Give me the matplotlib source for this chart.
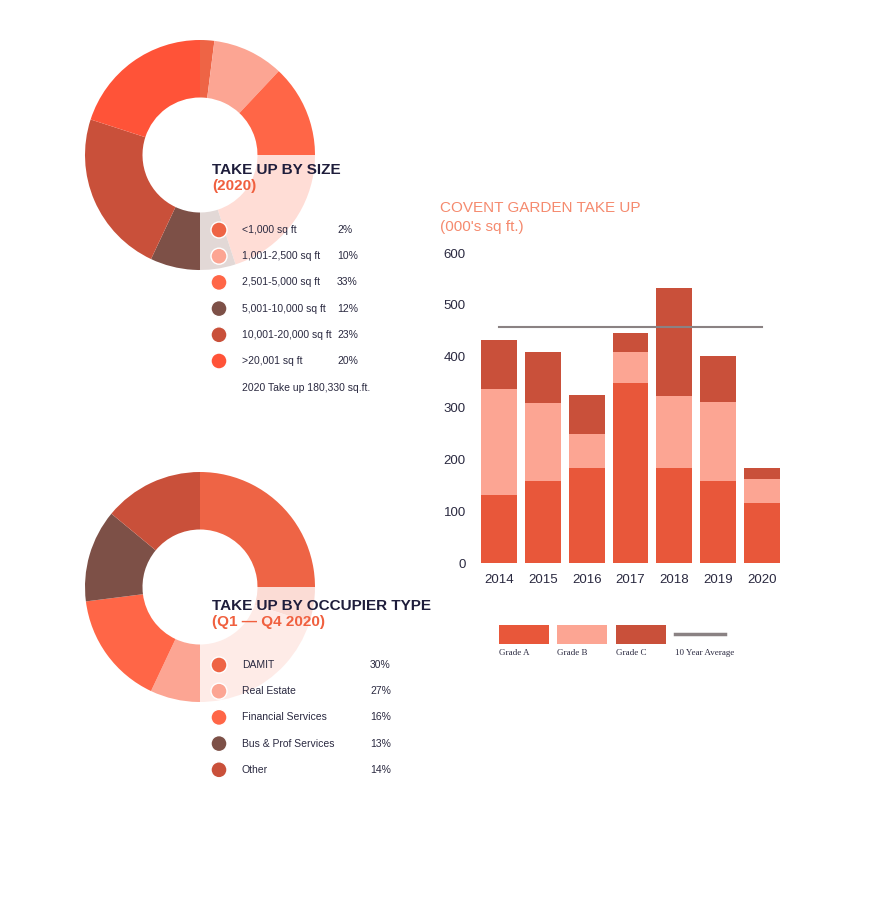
import matplotlib
matplotlib.use("Agg")
import matplotlib.pyplot as plt
from matplotlib.patches import Rectangle, Circle
from matplotlib.lines import Line2D

plt.rcParams["font.family"] = "Liberation Sans"

W, H = 869, 900
years = ["2014", "2015", "2016", "2017", "2018", "2019", "2020"]
grade_a = [132, 159, 184, 348, 184, 159, 116]
grade_b = [205, 150, 66, 60, 139, 152, 46]
grade_c = [94, 99, 75, 37, 209, 89, 22]
ten_year_avg = 456
yticks = [0, 100, 200, 300, 400, 500, 600]

size_labels = ["<1,000 sq ft", "1,001-2,500 sq ft", "2,501-5,000 sq ft", "5,001-10,000 sq ft",
               "10,001-20,000 sq ft", ">20,001 sq ft"]
size_values = [2, 10, 33, 12, 23, 20]
size_colors = ["#EE6445", "#FCA593", "#FF6647", "#7D5047", "#C9503A", "#FF5338"]

occ_labels = ["DAMIT", "Real Estate", "Financial Services", "Bus & Prof Services", "Other"]
occ_values = [30, 27, 16, 13, 14]
occ_colors = ["#EE6445", "#FCA593", "#FF6647", "#7D5047", "#C9503A"]

A_COL, B_COL, C_COL, AVG_COL = "#E8573A", "#FCA593", "#C9503A", "#8a8283"
NAVY, ORANGE, TXT = "#1e1d3b", "#F0603F", "#2a2940"

fig = plt.figure(figsize=(W / 100, H / 100), dpi=100)
fig.patch.set_facecolor("white")

def rect(x0, y0, x1, y1):
    return [x0 / W, 1 - y1 / H, (x1 - x0) / W, (y1 - y0) / H]

def donut(cx, cy, values, colors):
    r = 115
    ax = fig.add_axes(rect(cx - r, cy - r, cx + r, cy + r))
    ax.pie(values, colors=colors, startangle=90, counterclock=False,
           radius=1, wedgeprops=dict(width=0.5, edgecolor="none"))
    ax.add_patch(Rectangle((0, -1.05), 1.1, 1.05, facecolor="white", alpha=0.78,
                           edgecolor="none", zorder=5, clip_on=False))
    ax.set_xlim(-1, 1); ax.set_ylim(-1, 1)
    ax.set_aspect("equal"); ax.axis("off")
    return ax

donut(200, 155, size_values, size_colors)
donut(200, 587, occ_values, occ_colors)

lg = fig.add_axes(rect(0, 0, W, H), zorder=10)
lg.set_xlim(0, W); lg.set_ylim(H, 0); lg.axis("off")

lg.text(212, 170, "TAKE UP BY SIZE", fontsize=11, fontweight="bold", color=NAVY, va="center")
lg.text(212, 186, "(2020)", fontsize=11, fontweight="bold", color=ORANGE, va="center")
for i, (lab, v, c) in enumerate(zip(size_labels, size_values, size_colors)):
    y = 230 + i * 26.2
    lg.add_patch(Circle((219, y), 8, facecolor=c, edgecolor="white", lw=1))
    lg.text(242, y, lab, fontsize=7.5, color=TXT, va="center")
    lg.text(337, y, f"{v}%", fontsize=7.5, color=TXT, va="center")
lg.text(242, 388, "2020 Take up 180,330 sq.ft.", fontsize=7.5, color=TXT, va="center")

lg.text(212, 606, "TAKE UP BY OCCUPIER TYPE", fontsize=11, fontweight="bold", color=NAVY, va="center")
lg.text(212, 622, "(Q1 \u2014 Q4 2020)", fontsize=11, fontweight="bold", color=ORANGE, va="center")
for i, (lab, v, c) in enumerate(zip(occ_labels, occ_values, occ_colors)):
    y = 665 + i * 26.2
    lg.add_patch(Circle((219, y), 8, facecolor=c, edgecolor="white", lw=1))
    lg.text(242, y, lab, fontsize=7.5, color=TXT, va="center")
    lg.text(370, y, f"{v}%", fontsize=7.5, color=TXT, va="center")

# bar chart
ax = fig.add_axes(rect(477, 253, 784, 563))
x = list(range(len(years)))
bw = 0.82
ax.bar(x, grade_a, width=bw, color=A_COL)
ax.bar(x, grade_b, width=bw, bottom=grade_a, color=B_COL)
bot2 = [a + b for a, b in zip(grade_a, grade_b)]
ax.bar(x, grade_c, width=bw, bottom=bot2, color=C_COL)
ax.plot([0, 6], [ten_year_avg, ten_year_avg], color=AVG_COL, lw=1.5)
ax.set_xlim(-0.5, 6.5); ax.set_ylim(0, 600)
ax.set_yticks(yticks); ax.set_yticklabels([str(t) for t in yticks], fontsize=9.5, color=TXT)
ax.set_xticks(x); ax.set_xticklabels(years, fontsize=9.5, color=TXT)
ax.tick_params(length=0, pad=8)
for s in ax.spines.values():
    s.set_visible(False)

lg.text(440, 208, "COVENT GARDEN TAKE UP", fontsize=11, color="#F58A6E", va="center")
lg.text(440, 227, "(000's sq ft.)", fontsize=11, color="#F58A6E", va="center")

for x0, c, lab in [(499, A_COL, "Grade A"), (557, B_COL, "Grade B"), (616, C_COL, "Grade C")]:
    lg.add_patch(Rectangle((x0, 625), 50, 19, facecolor=c, edgecolor="none"))
    lg.text(x0, 653, lab, fontsize=6.5, family="Liberation Serif", color=TXT, va="center")
lg.add_line(Line2D([675, 725], [634, 634], color=AVG_COL, lw=2.5))
lg.text(675, 653, "10 Year Average", fontsize=6.5, family="Liberation Serif", color=TXT, va="center")

fig.savefig("out.png", dpi=100, facecolor="white")
